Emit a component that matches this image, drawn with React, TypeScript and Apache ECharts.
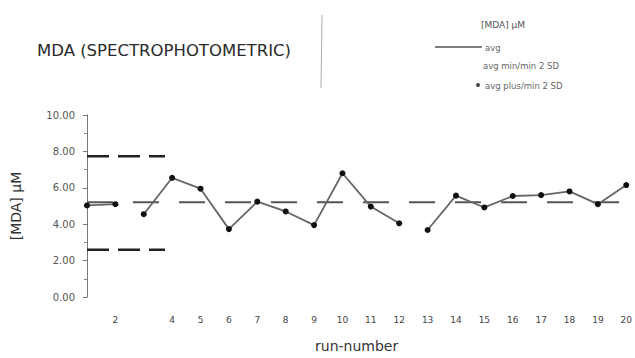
import React, { useEffect, useRef } from "react";
import * as echarts from "echarts";

const runs = [1, 2, 3, 4, 5, 6, 7, 8, 9, 10, 11, 12, 13, 14, 15, 16, 17, 18, 19, 20];
const mdaValues = [5.03, 5.1, 4.55, 6.55, 5.95, 3.73, 5.24, 4.7, 3.95, 6.8, 4.97, 4.05, 3.68, 5.57, 4.92, 5.55, 5.6, 5.8, 5.1, 6.15];
const breakAfterRuns = [2, 12];
const hiddenRunLabels = [1, 3];
const avgValue = 5.2;
const upperLimit = 7.73;
const lowerLimit = 2.6;
const avgSpan = [1, 20];
const limitSpan = [1, 3.75];
const legendLabels = ["[MDA] µM", "avg", "avg min/min 2 SD", "avg plus/min 2 SD"];
const titleText = "MDA (SPECTROPHOTOMETRIC)";

const FONT = "DejaVu Sans";

export default function App() {
  const ref = useRef<HTMLDivElement>(null);
  useEffect(() => {
    if (!ref.current) return;
    const chart = echarts.init(ref.current, null, { renderer: "svg" });

    const mdaData: any[] = [];
    runs.forEach((r, i) => {
      mdaData.push([r, mdaValues[i]]);
      if (breakAfterRuns.includes(r)) mdaData.push([r + 0.5, "-"]);
    });

    chart.setOption({
      animation: false,
      backgroundColor: "#ffffff",
      grid: { left: 87, width: 546, top: 115, bottom: 58, containLabel: false },
      xAxis: {
        type: "value",
        min: 1,
        max: 20,
        interval: 1,
        name: "run-number",
        nameLocation: "middle",
        nameGap: 42,
        nameTextStyle: { fontFamily: FONT, fontSize: 14, color: "#333" },
        axisLine: { show: false },
        axisTick: { show: false },
        splitLine: { show: false },
        axisLabel: {
          margin: 18,
          fontFamily: FONT,
          fontSize: 9,
          color: "#444",
          showMaxLabel: true,
          showMinLabel: true,
          formatter: (v: number) => (hiddenRunLabels.includes(v) ? "" : String(v)),
        },
      },
      yAxis: {
        type: "value",
        min: 0,
        max: 10,
        interval: 2,
        name: "[MDA] µM",
        nameLocation: "middle",
        nameRotate: 90,
        nameGap: 64,
        nameTextStyle: { fontFamily: FONT, fontSize: 14, color: "#333" },
        axisLine: { show: true, lineStyle: { color: "#777", width: 1 } },
        axisTick: { show: true, length: 4, lineStyle: { color: "#777" } },
        minorTick: { show: true, splitNumber: 2, length: 3, lineStyle: { color: "#888" } },
        splitLine: { show: false },
        axisLabel: {
          margin: 12,
          fontFamily: FONT,
          fontSize: 10,
          color: "#555",
          formatter: (v: number) => v.toFixed(2),
        },
      },
      series: [
        {
          name: legendLabels[1],
          type: "line",
          data: avgSpan.map((x) => [x, avgValue]),
          symbol: "none",
          lineStyle: { color: "#555", width: 2, type: [26, 20] },
          z: 1,
        },
        {
          name: legendLabels[2],
          type: "line",
          data: limitSpan.map((x) => [x, lowerLimit]),
          symbol: "none",
          lineStyle: { color: "#222", width: 2.5, type: [22, 9] },
          z: 1,
        },
        {
          name: legendLabels[3],
          type: "line",
          data: limitSpan.map((x) => [x, upperLimit]),
          symbol: "none",
          lineStyle: { color: "#222", width: 2.5, type: [22, 9] },
          z: 1,
        },
        {
          name: legendLabels[0],
          type: "line",
          data: mdaData,
          connectNulls: false,
          symbol: "circle",
          symbolSize: 6,
          itemStyle: { color: "#111" },
          lineStyle: { color: "#666", width: 1.8 },
          z: 3,
        },
      ],
      graphic: [
        {
          type: "text",
          left: 37,
          top: 42,
          style: { text: titleText, fontFamily: FONT, fontSize: 16.5, fill: "#2a2a2a" },
        },
        {
          type: "line",
          shape: { x1: 322, y1: 15, x2: 321, y2: 88 },
          style: { stroke: "#aaa", lineWidth: 1 },
        },
        {
          type: "text",
          left: 481,
          top: 20,
          style: { text: legendLabels[0], fontFamily: FONT, fontSize: 9, fill: "#555" },
        },
        {
          type: "line",
          shape: { x1: 435, y1: 47, x2: 482, y2: 47 },
          style: { stroke: "#555", lineWidth: 1.5 },
        },
        {
          type: "text",
          left: 485,
          top: 43,
          style: { text: legendLabels[1], fontFamily: FONT, fontSize: 8.5, fill: "#666" },
        },
        {
          type: "text",
          left: 483,
          top: 61,
          style: { text: legendLabels[2], fontFamily: FONT, fontSize: 8.5, fill: "#666" },
        },
        {
          type: "circle",
          shape: { cx: 478, cy: 85, r: 2 },
          style: { fill: "#444" },
        },
        {
          type: "text",
          left: 485,
          top: 81,
          style: { text: legendLabels[3], fontFamily: FONT, fontSize: 8.5, fill: "#666" },
        },
      ],
    });
    return () => chart.dispose();
  }, []);
  return (
    <div
      ref={ref}
      style={{ position: "fixed", left: 0, top: 0, width: 635, height: 358 }}
    />
  );
}
